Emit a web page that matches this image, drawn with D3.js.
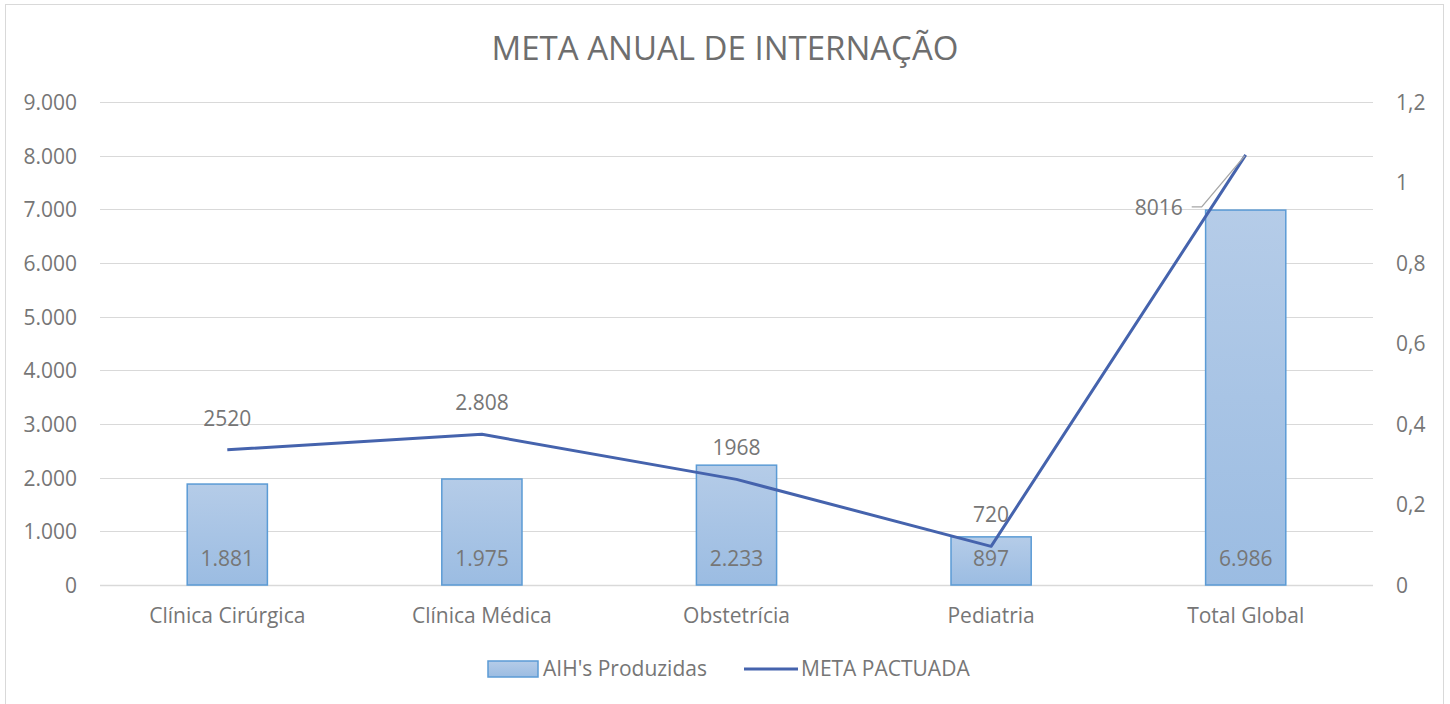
<!DOCTYPE html>
<html>
<head>
<meta charset="utf-8">
<script src="https://cdn.jsdelivr.net/npm/d3@7"></script>
<style>
  body { margin: 0; background: #fff; }
  text { font-family: "Open Sans", "Noto Sans", sans-serif; fill: #767676; }
</style>
</head>
<body>
<div id="chart"></div>
<script>
// data
var categories = ["Clínica Cirúrgica", "Clínica Médica", "Obstetrícia", "Pediatria", "Total Global"];
var produzidas = [1881, 1975, 2233, 897, 6986];
var meta = [2520, 2808, 1968, 720, 8016];
var metaLabels = ["2520", "2.808", "1968", "720", "8016"];
var leftTicks = [0, 1000, 2000, 3000, 4000, 5000, 6000, 7000, 8000, 9000];
var rightTicks = [0, 0.2, 0.4, 0.6, 0.8, 1, 1.2];

var W = 1450, H = 704;
var margin = {top: 102, right: 77, bottom: 119, left: 100},
    w = W - margin.left - margin.right,
    h = H - margin.top - margin.bottom;
var fs = "21px";

var svg = d3.select("#chart").append("svg")
  .attr("width", W).attr("height", H);

// outer frame
svg.append("rect")
  .attr("x", 5.5).attr("y", 4.5)
  .attr("width", 1438).attr("height", 710)
  .attr("fill", "none").attr("stroke", "#d9d9d9");

var defs = svg.append("defs");
var grad = defs.append("linearGradient").attr("id", "barGrad")
  .attr("x1", 0).attr("y1", 0).attr("x2", 0).attr("y2", 1);
grad.append("stop").attr("offset", "0%").attr("stop-color", "#b5cce8");
grad.append("stop").attr("offset", "100%").attr("stop-color", "#9bbce2");

svg.append("text")
  .attr("x", W / 2).attr("y", 60)
  .attr("text-anchor", "middle")
  .style("font-size", "33px")
  .style("fill", "#6e6e6e")
  .text("META ANUAL DE INTERNAÇÃO");

var g = svg.append("g").attr("transform", "translate(" + margin.left + "," + margin.top + ")");

var x = d3.scaleBand().domain(categories).range([0, w]).padding(0);
var y = d3.scaleLinear().domain([0, 9000]).range([h, 0]);
var y2 = d3.scaleLinear().domain([0, 1.2]).range([h, 0]);
var barW = x.bandwidth() * 0.315;
var cx = function(c) { return x(c) + x.bandwidth() / 2; };

var fmt = function(v) { return d3.format(",")(v).replace(/,/g, "."); };

// gridlines
g.selectAll(".grid").data(leftTicks).enter().append("line")
  .attr("x1", 0).attr("x2", w)
  .attr("y1", function(d) { return Math.round(y(d)) + 0.5; })
  .attr("y2", function(d) { return Math.round(y(d)) + 0.5; })
  .attr("stroke", "#d9d9d9").attr("stroke-width", function(d) { return d === 0 ? 1.5 : 1; });

// left axis labels
var yAxis = d3.axisLeft(y).tickValues(leftTicks).tickSize(0).tickPadding(23).tickFormat(fmt);
var ya = g.append("g").call(yAxis);
ya.select(".domain").remove();
ya.selectAll("text").style("font-size", fs).style("fill", "#767676").attr("dy", "0.35em");

var yAxis2 = d3.axisRight(y2).tickValues(rightTicks).tickSize(0).tickPadding(23)
  .tickFormat(function(d) { return String(d).replace(".", ","); });
var ya2 = g.append("g").attr("transform", "translate(" + w + ",0)").call(yAxis2);
ya2.select(".domain").remove();
ya2.selectAll("text").style("font-size", fs).style("fill", "#767676").attr("dy", "0.35em");

var xAxis = d3.axisBottom(x).tickSize(0).tickPadding(23);
var xa = g.append("g").attr("transform", "translate(0," + h + ")").call(xAxis);
xa.select(".domain").remove();
xa.selectAll("text").style("font-size", fs).style("fill", "#767676");

// bars
g.selectAll(".bar").data(produzidas).enter().append("rect")
  .attr("x", function(d, i) { return cx(categories[i]) - barW / 2; })
  .attr("y", function(d) { return y(d); })
  .attr("width", barW)
  .attr("height", function(d) { return h - y(d); })
  .attr("fill", "url(#barGrad)")
  .attr("stroke", "#5b9bd5").attr("stroke-width", 1.5);

g.selectAll(".bar_text").data(produzidas).enter().append("text")
  .attr("x", function(d, i) { return cx(categories[i]); })
  .attr("y", h - 19)
  .attr("text-anchor", "middle")
  .style("font-size", fs)
  .text(fmt);

// line
var line = d3.line()
  .x(function(d, i) { return cx(categories[i]); })
  .y(function(d) { return y(d); });
g.append("path").datum(meta)
  .attr("d", line)
  .attr("fill", "none")
  .attr("stroke", "#4563ad").attr("stroke-width", 3)
  .attr("stroke-linejoin", "round");

// line labels
var lastI = meta.length - 1;
g.selectAll(".meta_text").data(meta).enter().append("text")
  .attr("x", function(d, i) { return i === lastI ? cx(categories[i]) - 63 : cx(categories[i]); })
  .attr("y", function(d, i) { return i === lastI ? y(d) + 60 : y(d) - 24; })
  .attr("text-anchor", function(d, i) { return i === lastI ? "end" : "middle"; })
  .style("font-size", fs)
  .text(function(d, i) { return metaLabels[i]; });

// leader line for last label
var lx = cx(categories[lastI]), ly = y(meta[lastI]);
g.append("polyline")
  .attr("points", [[lx - 54, ly + 52], [lx - 44, ly + 52], [lx - 1, ly + 1]].map(function(p) { return p.join(","); }).join(" "))
  .attr("fill", "none").attr("stroke", "#a6a6a6").attr("stroke-width", 1.3);

// legend
var leg = svg.append("g").attr("transform", "translate(0,669)");
leg.append("rect").attr("x", 488).attr("y", -8).attr("width", 50).attr("height", 16)
  .attr("fill", "url(#barGrad)").attr("stroke", "#5b9bd5").attr("stroke-width", 1.5);
leg.append("text").attr("x", 543).attr("y", 0).attr("dy", "0.35em")
  .style("font-size", fs).text("AIH's Produzidas");
leg.append("line").attr("x1", 744).attr("x2", 798).attr("y1", 0).attr("y2", 0)
  .attr("stroke", "#4563ad").attr("stroke-width", 3);
leg.append("text").attr("x", 801).attr("y", 0).attr("dy", "0.35em")
  .style("font-size", fs).text("META PACTUADA");
</script>
</body>
</html>
